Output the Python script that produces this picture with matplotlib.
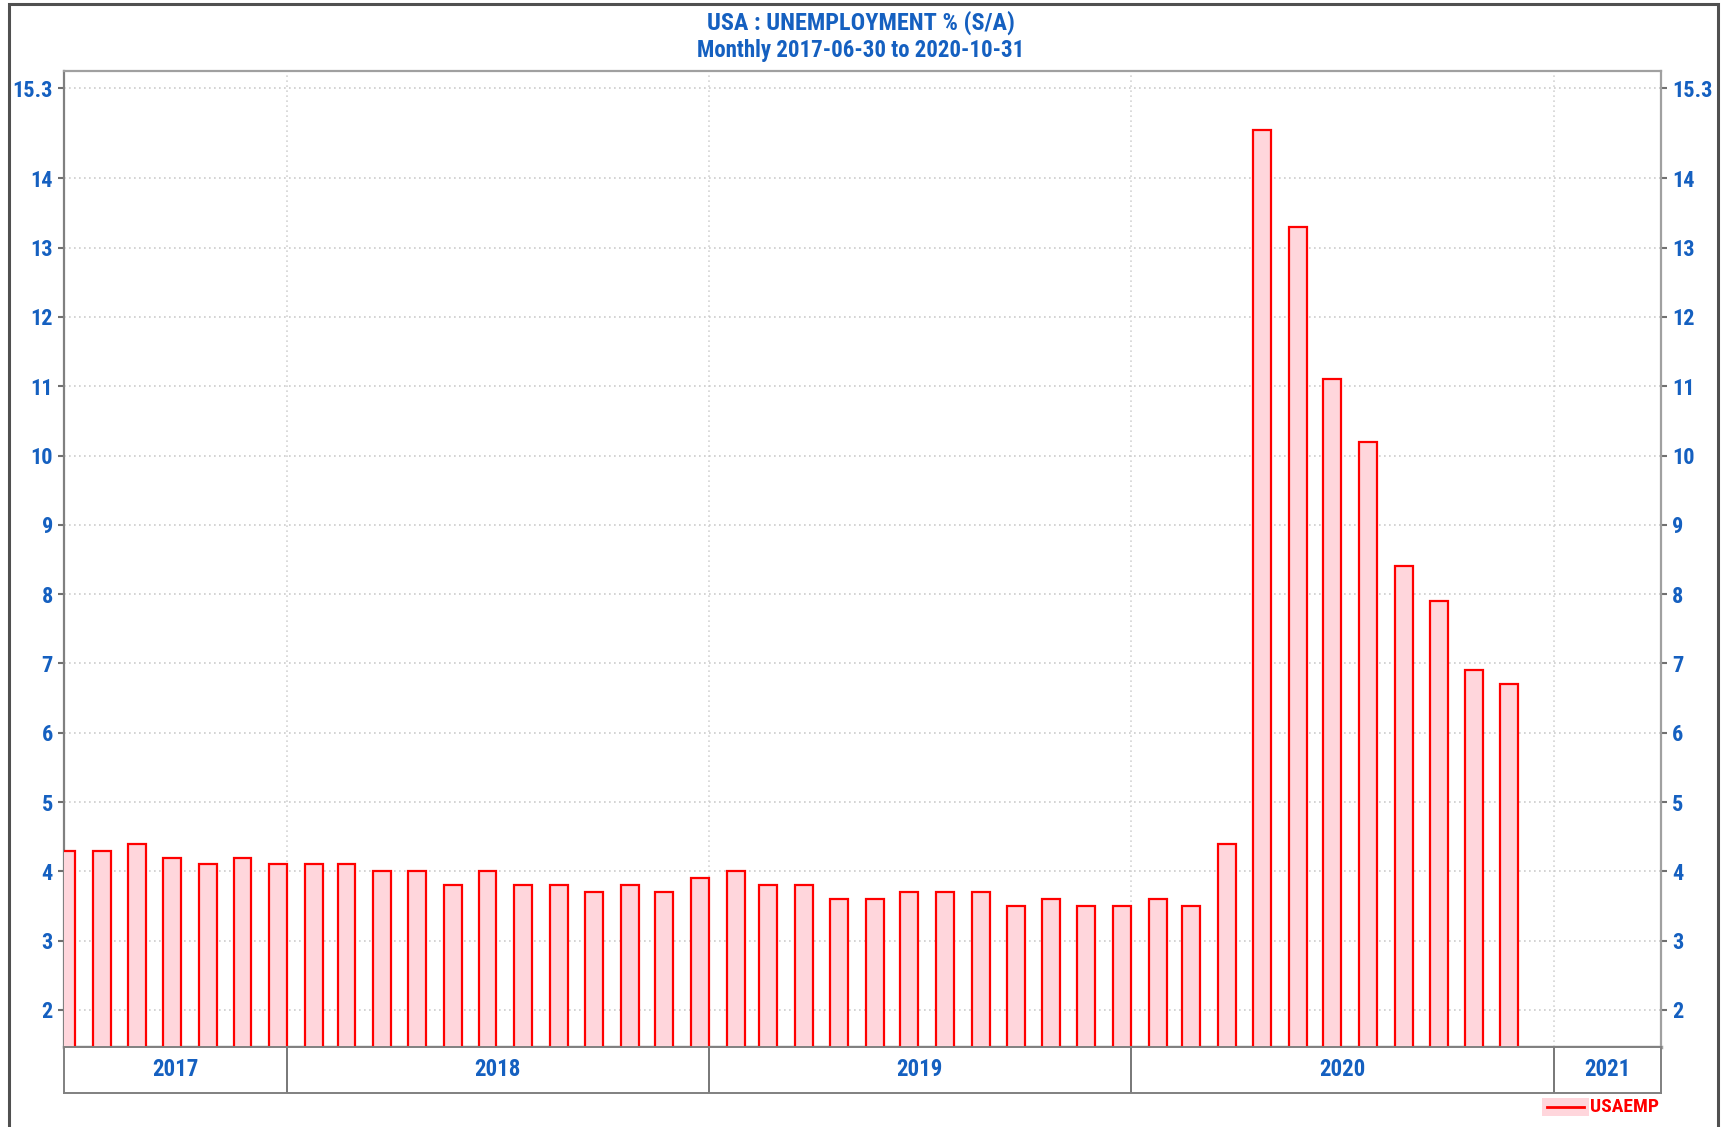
import datetime as dt
import matplotlib
matplotlib.use("Agg")
import matplotlib.pyplot as plt
import matplotlib.dates as mdates
from matplotlib.patches import Rectangle
from matplotlib.lines import Line2D
import pandas as pd

# data
months = pd.date_range("2017-06-30", "2020-11-30", freq="ME")
unemployment = [4.3, 4.3, 4.4, 4.2, 4.1, 4.2, 4.1,
                4.1, 4.1, 4.0, 4.0, 3.8, 4.0, 3.8, 3.8, 3.7, 3.8, 3.7, 3.9,
                4.0, 3.8, 3.8, 3.6, 3.6, 3.7, 3.7, 3.7, 3.5, 3.6, 3.5, 3.5,
                3.6, 3.5, 4.4, 14.7, 13.3, 11.1, 10.2, 8.4, 7.9, 6.9, 6.7]
yticks = [2, 3, 4, 5, 6, 7, 8, 9, 10, 11, 12, 13, 14, 15.3]
ytick_labels = ["2", "3", "4", "5", "6", "7", "8", "9", "10", "11", "12", "13", "14", "15.3"]
years = ["2017", "2018", "2019", "2020", "2021"]

W, H = 1727, 1127
BLUE = "#1560C0"
FONT = ["Roboto Condensed", "Archivo Narrow", "Liberation Sans", "DejaVu Sans"]
plt.rcParams["font.family"] = FONT
plt.rcParams["font.weight"] = "bold"

fig = plt.figure(figsize=(W / 100, H / 100), dpi=100)


def fx(x):
    return x / W


def fy(y):
    return 1 - y / H


x0, x1, y0, y1 = 64, 1661, 71, 1047
ax = fig.add_axes([fx(x0), fy(y1), fx(x1) - fx(x0), fy(y0) - fy(y1)])

xmin = mdates.date2num(dt.datetime(2017, 6, 22))
xmax = mdates.date2num(dt.datetime(2021, 4, 4))
xs = mdates.date2num(months.to_pydatetime()) - 6.5

ax.bar(xs, unemployment, width=15.5, bottom=0, color="#FFD6DC",
       edgecolor="#FF0000", linewidth=1.6, zorder=3)

ax.set_xlim(xmin, xmax)
ax.set_ylim(1.466, 15.548)

bounds = [mdates.date2num(dt.datetime(y, 1, 1)) for y in (2018, 2019, 2020, 2021)]
ax.set_xticks(bounds)
ax.set_xticklabels([])
ax.tick_params(axis="x", length=0)
ax.grid(True, axis="x", color="#d4d4d4", linestyle=(0, (1, 2)), linewidth=1.2, zorder=0)
ax.grid(True, axis="y", color="#cccccc", linestyle=(0, (1, 2)), linewidth=1.2, zorder=0)

ax.set_yticks(yticks)
ax.set_yticklabels(ytick_labels)
ax.tick_params(axis="y", which="both", direction="out", length=4, width=1.5,
               color="#707070", labelcolor=BLUE, labelsize=16, pad=4,
               left=True, right=True, labelleft=True, labelright=True)

for side, sp in ax.spines.items():
    sp.set_color("#a0a0a0")
    sp.set_linewidth(1.6)
ax.spines["bottom"].set_linewidth(2.5)
ax.spines["left"].set_color("#808080")

# year band
band = fig.add_axes([fx(x0), fy(1093), fx(x1) - fx(x0), fy(y1) - fy(1093)])
band.set_xlim(xmin, xmax)
band.set_ylim(0, 1)
band.set_xticks([])
band.set_yticks([])
for sp in band.spines.values():
    sp.set_color("#808080")
    sp.set_linewidth(1.4)
for b in bounds:
    band.axvline(b, color="#606060", linewidth=1.2)
edges = [xmin] + bounds + [xmax]
for i, label in enumerate(years):
    band.text((edges[i] + edges[i + 1]) / 2, 0.5, label, ha="center", va="center",
              color=BLUE, fontsize=16.5)

# title
fig.text(fx(861), fy(23), "USA : UNEMPLOYMENT % (S/A)", ha="center", va="center",
         color=BLUE, fontsize=17.5)
fig.text(fx(861), fy(51), "Monthly 2017-06-30 to 2020-10-31", ha="center", va="center",
         color=BLUE, fontsize=16.5)

# legend
fig.patches.append(Rectangle((fx(1542), fy(1116)), fx(1589) - fx(1542), fy(1098) - fy(1116),
                             transform=fig.transFigure, facecolor="#FFD6DC", edgecolor="none"))
fig.lines.append(Line2D([fx(1547), fx(1584)], [fy(1107), fy(1107)], transform=fig.transFigure,
                        color="#FF0000", linewidth=2))
fig.text(fx(1590), fy(1107), "USAEMP", ha="left", va="center", color="#FF0000", fontsize=14)

# outer frame
fig.patches.append(Rectangle((fx(9), fy(1140)), fx(1718) - fx(9), fy(4) - fy(1140),
                             transform=fig.transFigure, facecolor="none",
                             edgecolor="#505050", linewidth=2.2))

fig.savefig("out.png", dpi=100)
